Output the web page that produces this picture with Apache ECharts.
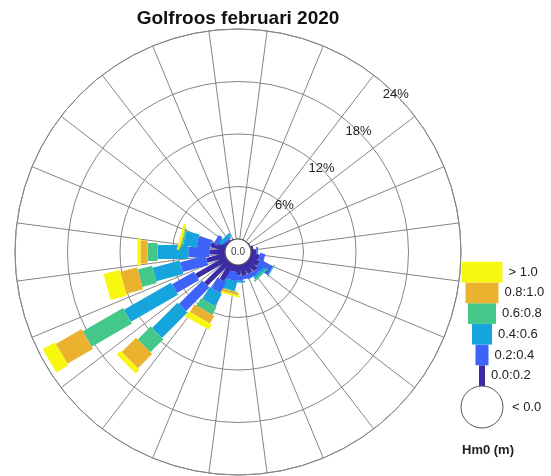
<!DOCTYPE html>
<html>
<head>
<meta charset="utf-8">
<title>Golfroos februari 2020</title>
<script src="https://cdn.jsdelivr.net/npm/echarts@6/dist/echarts.min.js"></script>
<style>
  html, body { margin: 0; padding: 0; background: #fff; }
  #chart { width: 551px; height: 476px; }
</style>
</head>
<body>
<div id="chart"></div>
<script>
// wave directions, degrees from north (clockwise)
const directions = [0, 15, 30, 45, 60, 75, 90, 105, 120, 135, 150, 165,
                    180, 195, 210, 225, 240, 255, 270, 285, 300, 315, 330, 345];

// Hm0 classes (m)
const binLabels = ['0.0:0.2', '0.2:0.4', '0.4:0.6', '0.6:0.8', '0.8:1.0', '> 1.0'];
const binColors = ['#3b2ca6', '#3d63f8', '#15a5dc', '#44c88a', '#eab22f', '#f7f70f'];

// percentage of time per direction, for every Hm0 class
const hm0_00_02 = [0, 0, 0, 0, 0.1, 0.3, 0.6, 1.0, 1.2, 1.4, 1.3, 1.3, 1.2, 0.8, 2.2, 3.7, 4.0, 2.2, 1.8, 1.7, 0.9, 0.2, 0.1, 0];
const hm0_02_04 = [0, 0, 0, 0, 0, 0, 0.2, 0.6, 1.6, 0.4, 0.5, 0.4, 0.6, 1.0, 1.4, 3.8, 2.9, 3.0, 2.4, 1.6, 0.5, 0.2, 0, 0];
const hm0_04_06 = [0, 0, 0, 0, 0, 0, 0, 0, 0.1, 0.3, 0, 0, 0.2, 1.1, 1.6, 4.1, 6.2, 3.2, 3.5, 1.5, 0, 0.4, 0, 0];
const hm0_06_08 = [0, 0, 0, 0, 0, 0, 0, 0, 0, 0.2, 0, 0, 0, 0.1, 1.0, 2.1, 5.3, 1.7, 1.15, 0.2, 0, 0, 0, 0];
const hm0_08_10 = [0, 0, 0, 0, 0, 0, 0, 0, 0, 0, 0, 0, 0, 0.3, 1.0, 2.3, 3.4, 2.0, 0.8, 0.1, 0, 0, 0, 0];
const hm0_gt_10 = [0, 0, 0, 0, 0, 0, 0, 0, 0, 0, 0, 0, 0, 0.2, 0.7, 0.6, 1.6, 1.9, 0.35, 0.25, 0, 0, 0, 0];

const calmPct = 0.0;          // < 0.0 m
const radialTicks = [6, 12, 18, 24];
const radialLabels = ['6%', '12%', '18%', '24%'];

const binSeries = [hm0_00_02, hm0_02_04, hm0_04_06, hm0_06_08, hm0_08_10, hm0_gt_10];
const barWidths = [5, 10, 14, 18, 23, 27];   // px, widest for the highest class

const center = [238, 252];
const radius = [13, 223];
const gridColor = '#858585';

function renderRose(params, api) {
  const i = params.dataIndex;
  const cs = params.coordSys;
  const children = [];
  let acc = 0;
  binSeries.forEach((arr, b) => {
    const v = arr[i];
    if (!v) return;
    const p0 = api.coord([acc, i]);
    acc += v;
    const p1 = api.coord([acc, i]);
    const dx = p1[0] - cs.cx, dy = p1[1] - cs.cy;
    const len = Math.sqrt(dx * dx + dy * dy) || 1;
    const hw = barWidths[b] / 2;
    const nx = -dy / len * hw, ny = dx / len * hw;
    children.push({
      type: 'polygon',
      shape: { points: [
        [p0[0] + nx, p0[1] + ny], [p1[0] + nx, p1[1] + ny],
        [p1[0] - nx, p1[1] - ny], [p0[0] - nx, p0[1] - ny]
      ] },
      style: { fill: binColors[b] }
    });
  });
  return { type: 'group', children: children };
}

function renderCalm(params, api) {
  const cs = params.coordSys;
  const p = api.coord([0, 0]);
  const r = Math.sqrt(Math.pow(p[0] - cs.cx, 2) + Math.pow(p[1] - cs.cy, 2));
  return {
    type: 'group',
    children: [
      { type: 'circle', shape: { cx: cs.cx, cy: cs.cy, r: r },
        style: { fill: '#fff', stroke: '#555', lineWidth: 1.2 } },
      { type: 'text', x: cs.cx, y: cs.cy,
        style: { text: api.value(0).toFixed(1), align: 'center', verticalAlign: 'middle',
                 fontSize: 10, fontFamily: 'Liberation Sans', fill: '#444' } }
    ]
  };
}

// legend on the right, built from the classes
const legendX = 482, legendBottom = 386, itemH = 20.7;
const legendWidths = [6, 13, 20, 28, 33, 41];
const graphics = [];
binLabels.forEach((lab, b) => {
  const top = legendBottom - (b + 1) * itemH;
  graphics.push({
    type: 'rect',
    shape: { x: legendX - legendWidths[b] / 2, y: top, width: legendWidths[b], height: itemH },
    style: { fill: binColors[b] }
  });
  graphics.push({
    type: 'text', x: legendX + legendWidths[b] / 2 + 6, y: top + itemH / 2,
    style: { text: lab, fontSize: 13, fontFamily: 'Liberation Sans', fill: '#222', verticalAlign: 'middle' }
  });
});
graphics.push({
  type: 'circle', shape: { cx: legendX, cy: legendBottom + 21, r: 21 },
  style: { fill: '#fff', stroke: '#555', lineWidth: 1 }
});
graphics.push({
  type: 'text', x: legendX + 30, y: legendBottom + 21,
  style: { text: '< ' + calmPct.toFixed(1), fontSize: 13, fontFamily: 'Liberation Sans', fill: '#222', verticalAlign: 'middle' }
});
graphics.push({
  type: 'text', x: 462, y: 450,
  style: { text: 'Hm0 (m)', fontSize: 13, fontWeight: 'bold', fontFamily: 'Liberation Sans', fill: '#222', verticalAlign: 'middle' }
});

const chart = echarts.init(document.getElementById('chart'));
chart.setOption({
  animation: false,
  title: {
    text: 'Golfroos februari 2020',
    left: 233, top: 4, textAlign: 'center',
    textStyle: { fontSize: 19, fontWeight: 'bold', fontFamily: 'Liberation Sans', color: '#111' }
  },
  polar: [
    { center: center, radius: radius },
    { center: center, radius: radius }
  ],
  angleAxis: [
    {
      polarIndex: 0,
      type: 'category',
      data: directions.map(String),
      startAngle: 97.5,
      clockwise: true,
      boundaryGap: true,
      axisLine: { show: true, lineStyle: { color: gridColor, width: 1 } },
      axisTick: { show: false },
      axisLabel: { show: false },
      splitLine: { show: true, lineStyle: { color: gridColor, width: 1 } }
    },
    {
      polarIndex: 1,
      type: 'value', min: 0, max: 360,
      startAngle: 45,
      show: false
    }
  ],
  radiusAxis: [
    {
      polarIndex: 0,
      type: 'value', min: 0, max: 24, interval: 6,
      axisLine: { show: false },
      axisTick: { show: false },
      axisLabel: { show: false },
      splitLine: { show: true, lineStyle: { color: gridColor, width: 1 } }
    },
    {
      polarIndex: 1,
      type: 'value', min: 0, max: 24, interval: 6,
      axisLine: { show: false },
      axisTick: { show: false },
      splitLine: { show: false },
      axisLabel: {
        margin: 0, align: 'center', verticalAlign: 'middle',
        fontSize: 13, fontFamily: 'Liberation Sans', color: '#222',
        formatter: v => radialLabels[radialTicks.indexOf(v)] || ''
      }
    }
  ],
  series: [
    {
      type: 'custom',
      coordinateSystem: 'polar',
      polarIndex: 0,
      renderItem: renderRose,
      data: directions.map((d, i) => [binSeries.reduce((s, a) => s + a[i], 0), i]),
      z: 2
    },
    {
      type: 'custom',
      coordinateSystem: 'polar',
      polarIndex: 0,
      renderItem: renderCalm,
      data: [[calmPct, 0]],
      z: 3
    }
  ],
  graphic: graphics
});
</script>
</body>
</html>
